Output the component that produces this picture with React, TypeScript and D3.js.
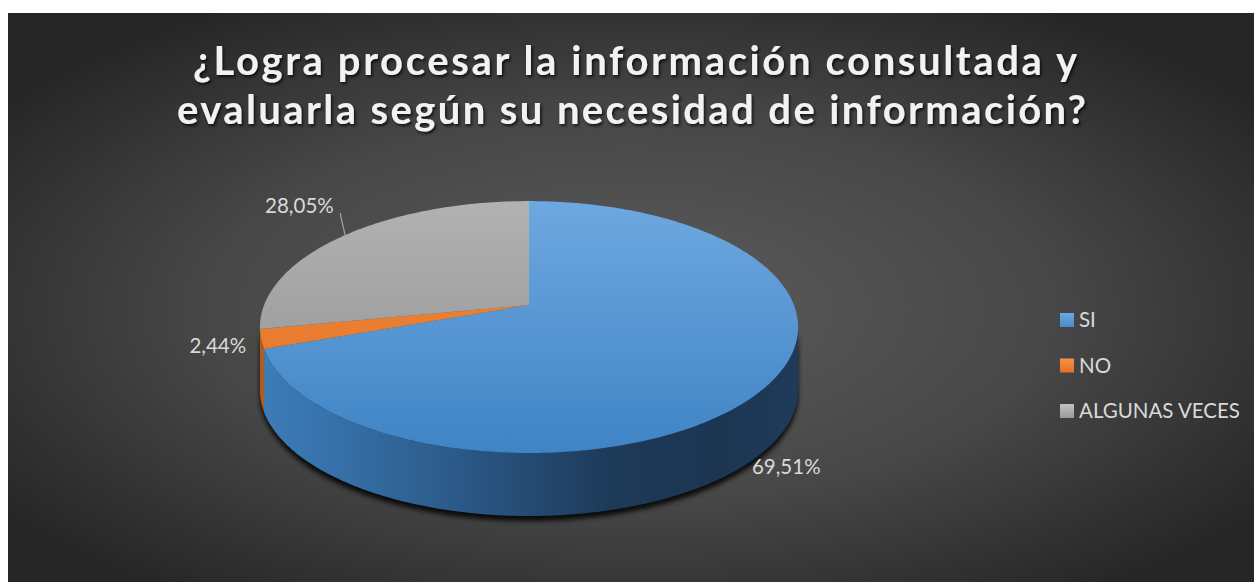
import React from "react";
import * as d3 from "d3";

const categories = ["SI", "NO", "ALGUNAS VECES"];
const values = [69.51, 2.44, 28.05];
const labels = ["69,51%", "2,44%", "28,05%"];
const titleLines = [
  "¿Logra procesar la información consultada y",
  "evaluarla según su necesidad de información?",
];

const W = 1254;
const H = 582;
const FRAME = { x: 8, y: 13 };

// pie geometry (perspective-projected disc)
const CX = 529;
const CY = 305;
const A = 264.9;
const B = 122.1;
const K = 0.175;
const DEPTH = 63;

const topColors = [
  ["#6ea8e0", "#3f84c5"],
  ["#f48c3e", "#e06f22"],
  ["#b2b2b2", "#8f8f8f"],
];
const sideColors = ["url(#sideSI)", "#b45a1c", "#7a7a7a"];
const legendColors = [
  ["#6aa8e2", "#4a8ac9"],
  ["#f6914a", "#e4701f"],
  ["#c2c2c2", "#9a9a9a"],
];
const labelOffsets = [
  { dx: -18, dy: 91, anchor: "start" },
  { dx: -15, dy: 14, anchor: "end" },
  { dx: -80, dy: -22, anchor: "start" },
];

function proj(t: number, dz = 0): [number, number] {
  const w = 1 + K * Math.cos(t);
  return [CX + (A * Math.sin(t)) / w, CY - (B * Math.cos(t)) / w + dz];
}

function rim(a0: number, a1: number, dz = 0): [number, number][] {
  const n = Math.max(2, Math.ceil(((a1 - a0) * 180) / Math.PI));
  const pts: [number, number][] = [];
  for (let i = 0; i <= n; i++) pts.push(proj(a0 + ((a1 - a0) * i) / n, dz));
  return pts;
}

const line = d3.line<[number, number]>();

export default function App() {
  const arcs = d3
    .pie<number>()
    .sort(null)
    .startAngle(0)
    .endAngle(2 * Math.PI)(values);

  const tL = Math.acos(-K);
  const tR = 2 * Math.PI - tL;

  const tops = arcs.map((a) => {
    const pts = [[CX, CY] as [number, number], ...rim(a.startAngle, a.endAngle)];
    return line(pts) + "Z";
  });

  const sides = arcs.map((a) => {
    const s = Math.max(a.startAngle, tL);
    const e = Math.min(a.endAngle, tR);
    if (e <= s) return null;
    const pts = [...rim(s, e), ...rim(s, e, DEPTH).reverse()];
    return line(pts) + "Z";
  });

  const shadowPath = line([...rim(tL, tR, DEPTH + 5), ...rim(tL, tR, 0).reverse()]) + "Z";

  const legendY = d3.scalePoint<string>().domain(categories).range([320, 411]);

  return (
    <svg
      width={W}
      height={H}
      style={{ position: "absolute", left: 0, top: 0 }}
      fontFamily="Lato, 'Open Sans', sans-serif"
    >
      <defs>
        <radialGradient id="bg" cx="0.5" cy="0.52" r="0.62">
          <stop offset="0" stopColor="#5c5c5c" />
          <stop offset="0.55" stopColor="#474747" />
          <stop offset="1" stopColor="#262626" />
        </radialGradient>
        {topColors.map((c, i) => (
          <linearGradient
            key={i}
            id={`top${i}`}
            gradientUnits="userSpaceOnUse"
            x1="0"
            y1={CY - 104}
            x2="0"
            y2={CY + 148}
          >
            <stop offset="0" stopColor={c[0]} />
            <stop offset="1" stopColor={c[1]} />
          </linearGradient>
        ))}
        {legendColors.map((c, i) => (
          <linearGradient key={i} id={`leg${i}`} x1="0" y1="0" x2="0" y2="1">
            <stop offset="0" stopColor={c[0]} />
            <stop offset="1" stopColor={c[1]} />
          </linearGradient>
        ))}
        <linearGradient
          id="sideSI"
          gradientUnits="userSpaceOnUse"
          x1={CX - 270}
          y1="0"
          x2={CX + 270}
          y2="0"
        >
          <stop offset="0" stopColor="#3e7cb9" />
          <stop offset="0.15" stopColor="#3570a8" />
          <stop offset="0.4" stopColor="#2a5683" />
          <stop offset="0.65" stopColor="#1d3a59" />
          <stop offset="0.85" stopColor="#1c3652" />
          <stop offset="1" stopColor="#1f3b59" />
        </linearGradient>
        <filter id="blur" x="-10%" y="-10%" width="120%" height="130%">
          <feGaussianBlur stdDeviation="2.5" />
        </filter>
        <filter id="tshadow" x="-5%" y="-20%" width="110%" height="150%">
          <feDropShadow dx="1.5" dy="2" stdDeviation="1.5" floodColor="#000" floodOpacity="0.75" />
        </filter>
      </defs>

      <rect x={FRAME.x} y={FRAME.y} width={W - FRAME.x} height={H - FRAME.y} fill="url(#bg)" />

      <g filter="url(#tshadow)" fill="#f2f2f2" fontWeight="bold" fontSize={40}>
        <text x={193} y={75} textLength={884} lengthAdjust="spacing">
          {titleLines[0]}
        </text>
        <text x={177} y={124} textLength={909} lengthAdjust="spacing">
          {titleLines[1]}
        </text>
      </g>

      <path d={shadowPath} fill="#000" opacity={0.85} filter="url(#blur)" />

      {sides.map((d, i) => (d ? <path key={`s${i}`} d={d} fill={sideColors[i]} /> : null))}
      {tops.map((d, i) => (
        <path key={`t${i}`} d={d} fill={`url(#top${i})`} />
      ))}

      {arcs.map((a, i) => {
        const mid = (a.startAngle + a.endAngle) / 2;
        const [px, py] = proj(mid);
        const o = labelOffsets[i];
        return (
          <g key={`l${i}`}>
            {i === 2 ? (
              <line x1={px - 5} y1={py - 22} x2={px} y2={py} stroke="#a6a6a6" strokeWidth={1.2} />
            ) : null}
            <text
              x={px + o.dx}
              y={py + o.dy}
              textAnchor={o.anchor as any}
              fill="#d9d9d9"
              fontSize={20.5}
            >
              {labels[i]}
            </text>
          </g>
        );
      })}

      {categories.map((c, i) => {
        const y = legendY(c)!;
        return (
          <g key={c}>
            <rect x={1060} y={y - 7} width={14} height={14} fill={`url(#leg${i})`} />
            <text x={1079} y={y + 7} fill="#d9d9d9" fontSize={20.5}>
              {c}
            </text>
          </g>
        );
      })}
    </svg>
  );
}
